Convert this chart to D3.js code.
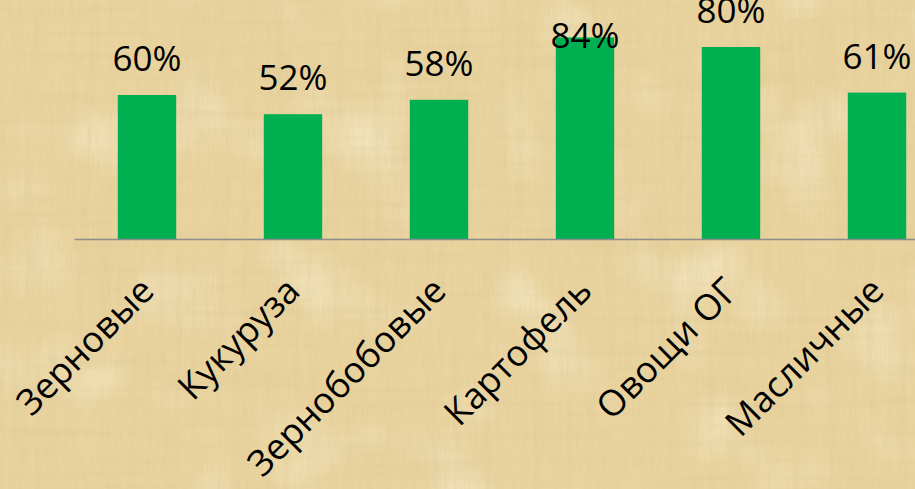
<html>
<head>
    <meta charset="UTF-8">
    <title>Bar Chart</title>
    <script src="https://d3js.org/d3.v7.min.js"></script>
    <style>
        body { margin: 0; }
    </style>
</head>
<body>
    <svg width="915" height="489"></svg>
    <script>
        // data
        var categories = ['Зерновые', 'Кукуруза', 'Зернобобовые', 'Картофель', 'Овощи ОГ', 'Масличные'];
        var values = [60, 52, 58, 84, 80, 61];
        var valueLabels = ['60%', '52%', '58%', '84%', '80%', '61%'];

        var svg = d3.select('svg'),
            width = +svg.attr('width'),
            height = +svg.attr('height');

        var axisY = 239;

        // papyrus-like background made from noise filters
        var defs = svg.append('defs');
        function fibre(id, freq, oct, seed, matrix) {
            var f = defs.append('filter').attr('id', id)
                .attr('x', 0).attr('y', 0).attr('width', '100%').attr('height', '100%');
            f.append('feTurbulence').attr('type', 'fractalNoise')
                .attr('baseFrequency', freq).attr('numOctaves', oct).attr('seed', seed);
            f.append('feColorMatrix').attr('type', 'matrix').attr('values', matrix);
        }
        fibre('light', '0.012 0.012', 2, 5, '0 0 0 0 1  0 0 0 0 0.95  0 0 0 0 0.78  -1.1 0 0 0 0.55');
        fibre('vdark', '0.12 0.006', 2, 3, '0 0 0 0 0.72  0 0 0 0 0.58  0 0 0 0 0.30  0.7 0 0 0 -0.3');
        fibre('hdark', '0.006 0.12', 2, 9, '0 0 0 0 0.72  0 0 0 0 0.58  0 0 0 0 0.30  0.7 0 0 0 -0.3');
        fibre('grain', '0.6 0.04', 2, 11, '0 0 0 0 0.70  0 0 0 0 0.56  0 0 0 0 0.28  0.6 0 0 0 -0.26');

        svg.append('rect').attr('width', width).attr('height', height).attr('fill', '#e9d39e');
        ['light', 'vdark', 'hdark', 'grain'].forEach(function (id) {
            svg.append('rect').attr('width', width).attr('height', height)
                .attr('filter', 'url(#' + id + ')');
        });

        // scales (the plot runs past the right edge of the picture)
        var x = d3.scaleBand().domain(categories).range([74, 950])
            .paddingInner(0.6).paddingOuter(0.3);
        var y = d3.scaleLinear().domain([0, 100]).range([axisY, -1]);

        var g = svg.append('g');

        g.selectAll('.bar').data(values).enter().append('rect')
            .attr('class', 'bar')
            .attr('x', (d, i) => x(categories[i]))
            .attr('y', d => y(d))
            .attr('width', x.bandwidth())
            .attr('height', d => axisY - y(d))
            .attr('fill', '#00b050');

        // value labels above bars; the tallest one would leave the chart, so it sits on the bar
        g.selectAll('.val').data(values).enter().append('text')
            .attr('class', 'val')
            .attr('x', (d, i) => x(categories[i]) + x.bandwidth() / 2)
            .attr('y', d => {
                var base = y(d) - 24;
                return base - 26 < -8 ? y(d) + 11 : base;
            })
            .attr('text-anchor', 'middle')
            .attr('font-family', '"Open Sans", sans-serif')
            .attr('font-size', 35)
            .attr('fill', '#000')
            .text((d, i) => valueLabels[i]);

        // x axis
        var xAxis = g.append('g')
            .attr('transform', 'translate(0,' + axisY + ')')
            .call(d3.axisBottom(x).tickSize(0).tickSizeOuter(0));
        xAxis.select('.domain').attr('stroke', '#8c8c8c').attr('stroke-width', 1.5);
        xAxis.selectAll('text')
            .attr('font-family', '"Open Sans", sans-serif')
            .attr('font-size', 36)
            .attr('fill', '#000')
            .attr('text-anchor', 'end')
            .attr('dy', null)
            .attr('y', 0)
            .attr('transform', 'translate(9,54) rotate(-45)');
    </script>
</body>
</html>
